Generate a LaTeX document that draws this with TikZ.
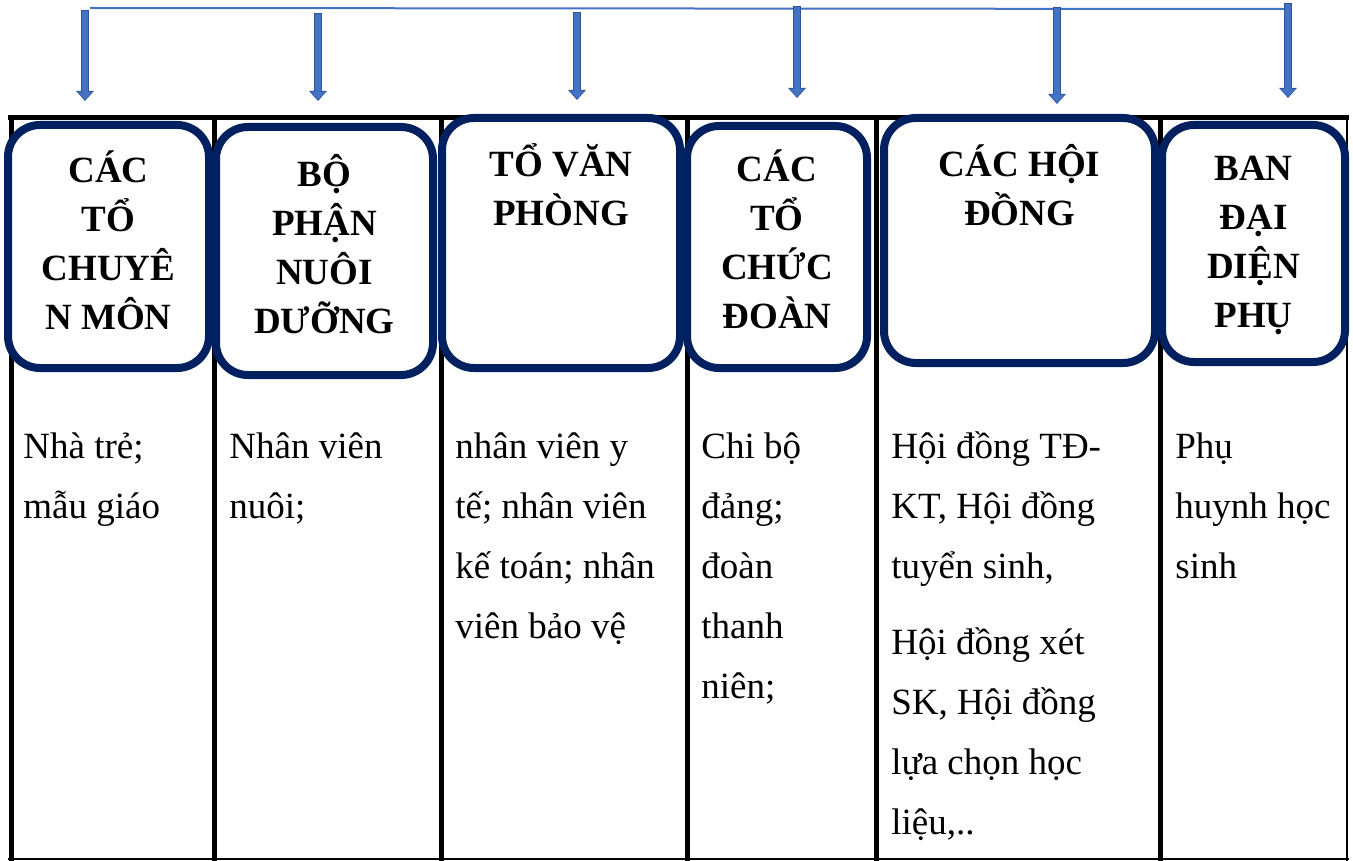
\documentclass[tikz,border=0pt]{standalone}
\usepackage{fontspec}
\setmainfont{Liberation Serif}
\definecolor{navy}{RGB}{0,32,96}
\definecolor{linkblue}{RGB}{68,114,196}
\definecolor{edgeblue}{RGB}{47,85,151}
\usetikzlibrary{positioning, arrows.meta}

\begin{document}
\begin{tikzpicture}[
  x=0.5pt, y=-0.5pt,
  headbox/.style={draw=navy, fill=white, line width=4pt, rounded corners=16pt,
    outer sep=0pt, inner sep=0pt},
  headtext/.style={anchor=base, align=center, inner sep=0pt,
    font=\fontsize{18.5}{24.5}\selectfont\bfseries},
  bodytext/.style={anchor=base west, align=left, inner sep=0pt,
    font=\fontsize{18.5}{30}\selectfont},
  downarrow/.style={linkblue, line width=2.8pt, shorten <=0.5pt, shorten >=0.6pt,
    -{Triangle[width=7pt,length=4pt]},
    preaction={draw=edgeblue, line width=3.8pt, shorten <=0pt, shorten >=0pt,
      -{Triangle[width=8.6pt,length=5pt]}}},
  rule/.style={line width=2.5pt},
  thinrule/.style={line width=1pt},
]
  \useasboundingbox (0,0) rectangle (1353,861);

  % top line and arrows
  \coordinate (l0) at (90,8);
  \coordinate (l1) at (1290,9);
  \draw[linkblue, line width=1pt] (l0) -- (l1);
  \coordinate (a1) at (85,10);    \coordinate (e1) at (85,101);
  \coordinate (a2) at (318,13);   \coordinate (e2) at (318,101);
  \coordinate (a3) at (577,12);   \coordinate (e3) at (577,100);
  \coordinate (a4) at (797,6);    \coordinate (e4) at (797,98);
  \coordinate (a5) at (1057,7);   \coordinate (e5) at (1057,104);
  \coordinate (a6) at (1288,3);   \coordinate (e6) at (1288,98);
  \draw[downarrow] (a1) -- (e1);
  \draw[downarrow] (a2) -- (e2);
  \draw[downarrow] (a3) -- (e3);
  \draw[downarrow] (a4) -- (e4);
  \draw[downarrow] (a5) -- (e5);
  \draw[downarrow] (a6) -- (e6);

  % table
  \draw[rule] (8,118) -- (1349,118);
  \draw[rule] (11,116) -- (11,861);
  \draw[rule] (214,116) -- (214,861);
  \draw[rule] (441,116) -- (441,861);
  \draw[rule] (687,116) -- (687,861);
  \draw[rule] (876,116) -- (876,861);
  \draw[rule] (1160,116) -- (1160,861);
  \draw[thinrule] (1347,116) -- (1347,861);
  \draw[thinrule] (8,859) -- (1349,859);

  % heading boxes
  \node[headbox, minimum width=100.5pt, minimum height=121.5pt] (hcm) at (108.5,246.5) {};
  \node[headtext] (tcm) at ([yshift=-102pt]hcm.north) {CÁC\\TỔ\\CHUYÊ\\N MÔN};
  \node[headbox, minimum width=108.5pt, minimum height=124pt] (hnd) at (324.5,251) {};
  \node[headtext] (tnd) at ([yshift=-103pt]hnd.north) {BỘ\\PHẬN\\NUÔI\\DƯỠNG};
  \node[headbox, minimum width=119pt, minimum height=125pt] (hvp) at (561,243) {};
  \node[headtext] (tvp) at ([yshift=-54pt]hvp.north) {TỔ VĂN\\PHÒNG};
  \node[headbox, minimum width=90pt, minimum height=121pt] (hcd) at (777,247) {};
  \node[headtext] (tcd) at ([yshift=-101pt]hcd.north) {CÁC\\TỔ\\CHỨC\\ĐOÀN};
  \node[headbox, minimum width=135.5pt, minimum height=122.5pt] (hhd) at (1019.5,240.5) {};
  \node[headtext] (thd) at ([yshift=-54pt]hhd.north) {CÁC HỘI\\ĐỒNG};
  \node[headbox, minimum width=91.5pt, minimum height=118.5pt] (hph) at (1253.5,243.5) {};
  \node[headtext] (tph) at ([yshift=-101pt]hph.north) {BAN\\ĐẠI\\DIỆN\\PHỤ};

  % members
  \node[bodytext] (bcm) at (23,518) {Nhà trẻ;\\mẫu giáo};
  \node[bodytext] (bnd) at (229,518) {Nhân viên\\nuôi;};
  \node[bodytext] (bvp) at (455,638) {nhân viên y\\tế; nhân viên\\kế toán; nhân\\viên bảo vệ};
  \node[bodytext] (bcd) at (701,698) {Chi bộ\\đảng;\\đoàn\\thanh\\niên;};
  \node[bodytext] (bhd) at (891,834) {Hội đồng TĐ-\\KT, Hội đồng\\tuyển sinh,\\[8pt]Hội đồng xét\\SK, Hội đồng\\lựa chọn học\\liệu,..};
  \node[bodytext] (bph) at (1175,578) {Phụ\\huynh học\\sinh};
\end{tikzpicture}
\end{document}
